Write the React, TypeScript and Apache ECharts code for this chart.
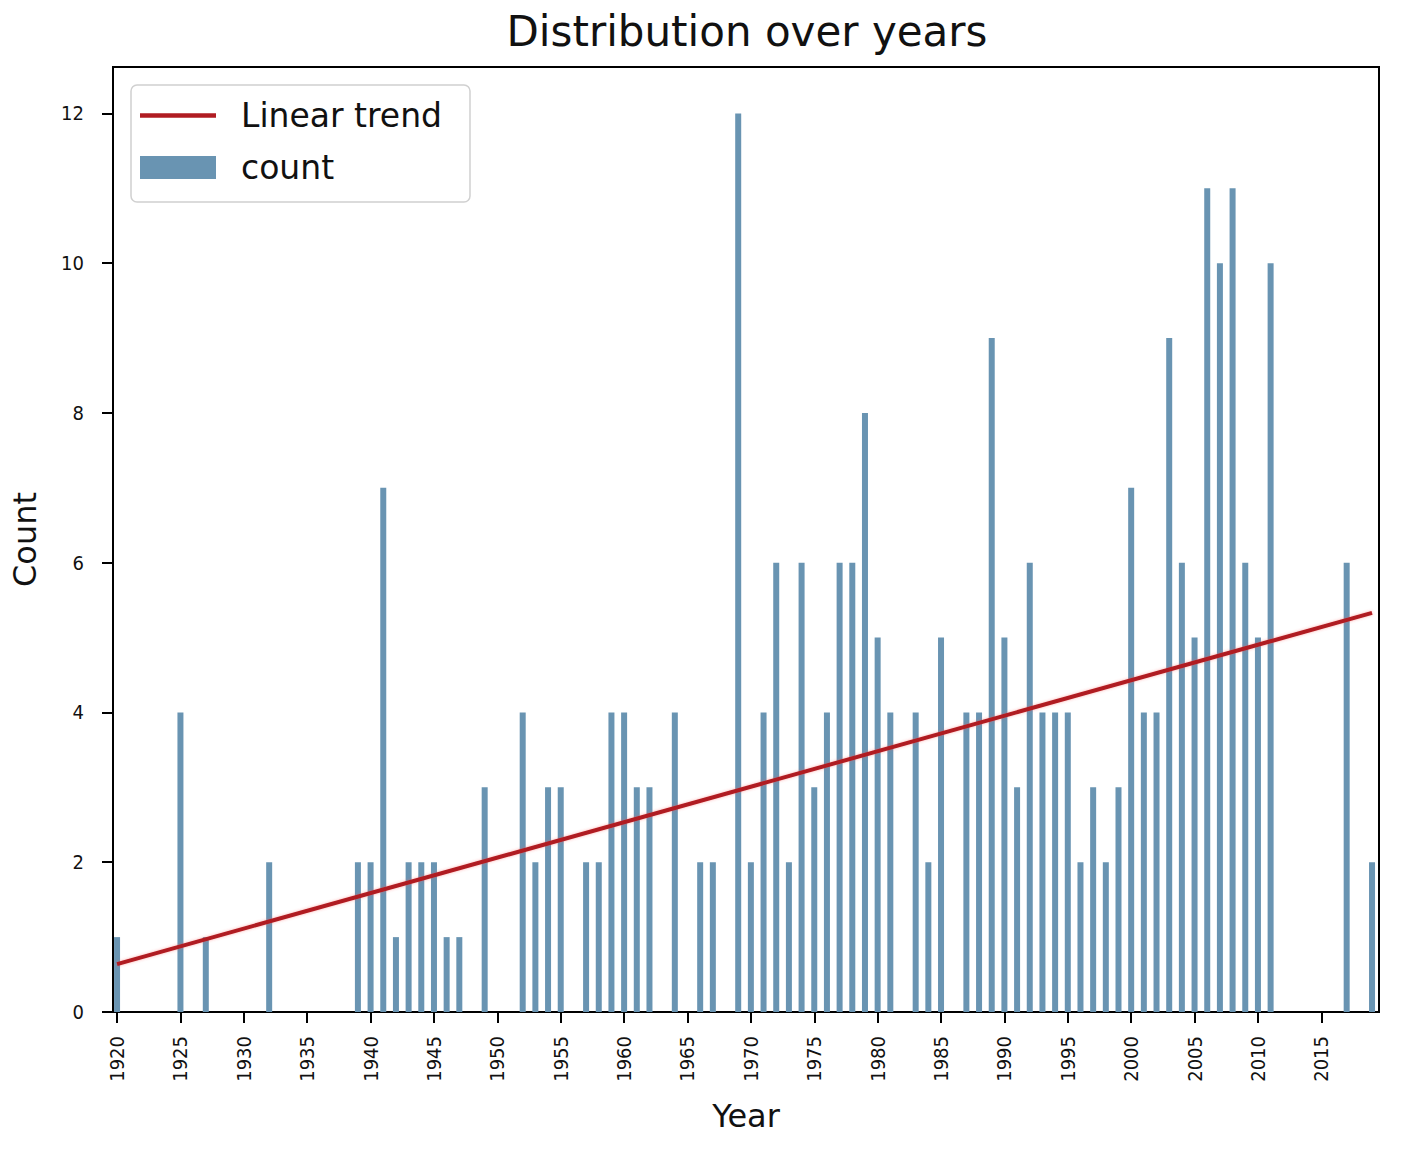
import React, { useEffect, useRef } from 'react';
import * as echarts from 'echarts';

// years present in the data and their counts
const years = [
  1920, 1925, 1927, 1932, 1939, 1940, 1941, 1942, 1943, 1944, 1945, 1946, 1947, 1949,
  1952, 1953, 1954, 1955, 1957, 1958, 1959, 1960, 1961, 1962, 1964, 1966, 1967, 1969,
  1970, 1971, 1972, 1973, 1974, 1975, 1976, 1977, 1978, 1979, 1980, 1981, 1983, 1984,
  1985, 1987, 1988, 1989, 1990, 1991, 1992, 1993, 1994, 1995, 1996, 1997, 1998, 1999,
  2000, 2001, 2002, 2003, 2004, 2005, 2006, 2007, 2008, 2009, 2010, 2011, 2017, 2019,
];
const counts = [
  1, 4, 1, 2, 2, 2, 7, 1, 2, 2, 2, 1, 1, 3,
  4, 2, 3, 3, 2, 2, 4, 4, 3, 3, 4, 2, 2, 12,
  2, 4, 6, 2, 6, 3, 4, 6, 6, 8, 5, 4, 4, 2,
  5, 4, 4, 9, 5, 3, 6, 4, 4, 4, 2, 3, 2, 3,
  7, 4, 4, 9, 6, 5, 11, 10, 11, 6, 5, 10, 6, 2,
];

// linear trend end points
const trendYears = [1920, 2019];
const trendValues = [0.64, 5.33];

const xTicks = [1920, 1925, 1930, 1935, 1940, 1945, 1950, 1955, 1960, 1965, 1970, 1975, 1980, 1985, 1990, 1995, 2000, 2005, 2010, 2015];
const yTicks = [0, 2, 4, 6, 8, 10, 12];

const FONT = 'DejaVu Sans';
const TICK_FONT = "'DejaVu Sans Condensed', 'Liberation Sans Narrow', 'DejaVu Sans'";
const TREND_COLOR = '#b01c22';

const App: React.FC = () => {
  const chartRef = useRef<HTMLDivElement>(null);

  useEffect(() => {
    document.body.style.margin = '0';
    document.body.style.overflow = 'hidden';
    const chart = echarts.init(chartRef.current!, undefined, { renderer: 'svg' });

    const option = {
      animation: false,
      backgroundColor: '#fff',
      title: {
        text: 'Distribution over years',
        left: 742,
        top: 5,
        textAlign: 'center',
        textStyle: { fontFamily: FONT, fontSize: 42, fontWeight: 'normal', color: '#111' },
      },
      legend: {
        orient: 'vertical',
        left: 131,
        top: 85,
        padding: [14, 28, 18, 9],
        itemWidth: 76,
        itemHeight: 23,
        itemGap: 19,
        borderColor: '#d0d0d0',
        borderWidth: 1.5,
        borderRadius: 6,
        backgroundColor: '#fff',
        textStyle: { fontFamily: FONT, fontSize: 33, color: '#111', padding: [0, 0, 0, 20] },
        data: [
          {
            name: 'Linear trend',
            icon: 'path://M0,0 L100,0 L100,6 L0,6 Z',
            itemStyle: { color: TREND_COLOR },
          },
          { name: 'count', icon: 'rect' },
        ],
      },
      grid: {
        left: 113,
        right: 22,
        top: 67,
        bottom: 140,
        show: true,
        borderColor: '#000',
        borderWidth: 2,
        containLabel: false,
      },
      xAxis: {
        type: 'value',
        min: 1919.68,
        max: 2019.55,
        name: 'Year',
        nameLocation: 'middle',
        nameGap: 88,
        nameTextStyle: { fontFamily: FONT, fontSize: 32, color: '#111' },
        axisLine: { show: true, lineStyle: { color: '#000', width: 2 } },
        axisTick: {
          show: true,
          length: 11,
          customValues: xTicks,
          lineStyle: { color: '#000', width: 2 },
        },
        axisLabel: {
          customValues: xTicks,
          rotate: 90,
          margin: 24,
          fontFamily: TICK_FONT,
          fontSize: 20,
          color: '#111',
          formatter: (v: number) => String(v),
        },
        splitLine: { show: false },
      },
      yAxis: {
        type: 'value',
        min: 0,
        max: 12.62,
        name: 'Count',
        nameLocation: 'middle',
        nameGap: 72,
        nameTextStyle: { fontFamily: FONT, fontSize: 32, color: '#111' },
        axisLine: { show: true, lineStyle: { color: '#000', width: 2 } },
        axisTick: {
          show: true,
          length: 11,
          customValues: yTicks,
          lineStyle: { color: '#000', width: 2 },
        },
        axisLabel: {
          customValues: yTicks,
          margin: 29,
          fontFamily: TICK_FONT,
          fontSize: 20,
          color: '#111',
        },
        splitLine: { show: false },
      },
      series: [
        {
          name: 'count',
          type: 'bar',
          barWidth: 6,
          itemStyle: { color: '#6994b2' },
          data: years.map((y, i) => [y, counts[i]]),
          z: 2,
        },
        {
          name: 'Linear trend',
          type: 'line',
          symbol: 'none',
          lineStyle: {
            color: TREND_COLOR,
            width: 4,
            shadowColor: 'rgba(255, 80, 80, 0.45)',
            shadowBlur: 3,
          },
          itemStyle: { color: TREND_COLOR },
          data: trendYears.map((y, i) => [y, trendValues[i]]),
          z: 3,
        },
      ],
    };

    chart.setOption(option);

    return () => {
      chart.dispose();
    };
  }, []);

  return <div ref={chartRef} style={{ width: '1401px', height: '1152px' }} />;
};

export default App;
